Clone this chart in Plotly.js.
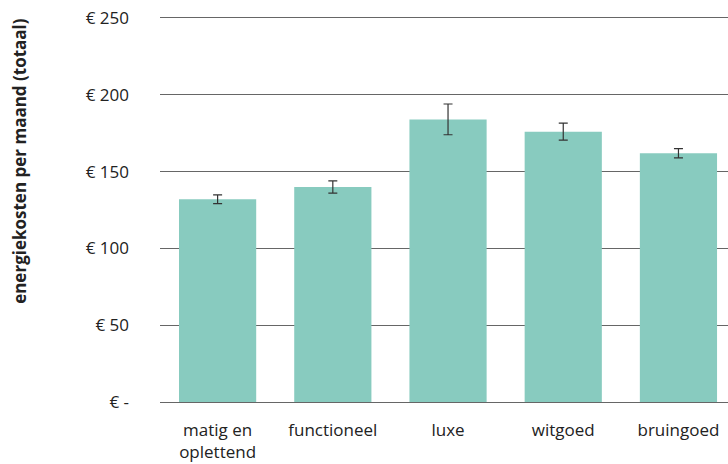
<!DOCTYPE html>
<html>
<head>
<meta charset="utf-8">
<script src="https://cdn.plot.ly/plotly-3.0.1.min.js"></script>
<style>html,body{margin:0;padding:0;background:#fff;}#chart{width:728px;height:464px;}</style>
</head>
<body>
<div id="chart"></div>
<script>
const categories = ["matig en<br>oplettend", "functioneel", "luxe", "witgoed", "bruingoed"];
const costs = [132, 140, 184, 176, 162];
const errors = [2.8, 4, 10, 5.5, 3];
const tickValues = [0, 50, 100, 150, 200, 250];
const tickLabels = ["€ -", "€ 50", "€ 100", "€ 150", "€ 200", "€ 250"];
const yTitle = "energiekosten per maand (totaal)";

const trace = {
  type: "bar",
  x: categories,
  y: costs,
  marker: {color: "#88cbbf"},
  error_y: {type: "data", array: errors, visible: true, color: "#333333", thickness: 1.2, width: 4.5},
  hoverinfo: "none"
};

const layout = {
  width: 728, height: 464,
  margin: {l: 160, r: 0, t: 18, b: 62},
  paper_bgcolor: "#fff", plot_bgcolor: "#fff",
  showlegend: false,
  bargap: 0.33,
  font: {family: "Open Sans, sans-serif", size: 17, color: "#222"},
  xaxis: {
    range: [-0.5, 4.43],
    showgrid: false, zeroline: false,
    showline: true, mirror: true, linecolor: "#666", linewidth: 1.3,
    ticks: "", ticklabelstandoff: 12,
    tickfont: {size: 17, color: "#222"}
  },
  yaxis: {
    range: [0, 250],
    tickvals: tickValues, ticktext: tickLabels,
    showgrid: true, gridcolor: "#666", gridwidth: 1.3,
    zeroline: false, showline: false, ticks: "",
    ticklabelstandoff: 30,
    tickfont: {size: 17, color: "#222"}
  },
  annotations: [{
    text: "<b>" + yTitle + "</b>",
    xref: "paper", yref: "paper", x: 0, y: 0.628,
    xanchor: "center", yanchor: "middle", xshift: -140,
    textangle: -90, showarrow: false,
    font: {family: "Open Sans, sans-serif", size: 17, color: "#222"}
  }]
};

Plotly.newPlot("chart", [trace], layout, {staticPlot: true, displayModeBar: false});
</script>
</body>
</html>
